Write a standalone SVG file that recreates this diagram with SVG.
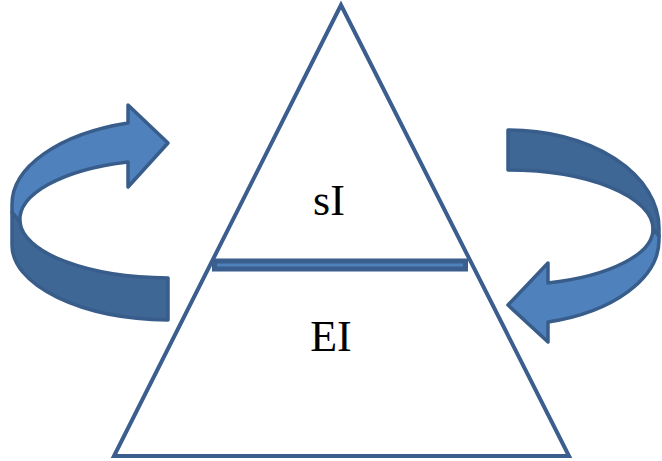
<svg xmlns="http://www.w3.org/2000/svg" width="662" height="461" viewBox="0 0 662 461">
<style>
.light{fill:#4F81BD;stroke:#385D8A;stroke-width:3.5;stroke-linejoin:round}
.dark{fill:#3E6796;stroke:#385D8A;stroke-width:3.5;stroke-linejoin:round}
.lbl{font-family:"Liberation Serif","Times New Roman",serif;font-size:44px;fill:#000;text-anchor:middle}
</style>
<rect width="662" height="461" fill="#fff"/>
<g id="arrow-left">
<path class="dark" d="M 20 222 A 150 58 0 0 0 168 278 L 168 320 A 160 75 0 0 1 12 245 L 12 212 Z"/>
<path class="light" d="M 20 222 L 12 212 L 12 205 A 163 85 0 0 1 128 123 L 128 105 L 168 143 L 128 187 L 128 162 A 150 60 0 0 0 20 222 Z"/>
</g>
<g id="arrow-right">
<path class="dark" d="M 508 130 A 150 98 0 0 1 659 228 L 659 236 L 653 229 A 145 59 0 0 0 508 170 Z"/>
<path class="light" d="M 653 229 A 145 56 0 0 1 548 283 L 548 263 L 508 305 L 548 342 L 548 322 A 151 85 0 0 0 659 240 L 659 236 Z"/>
</g>
<g id="pyramid">
<polygon points="341,5 114,456 569,456" fill="none" stroke="#3B5E8E" stroke-width="4" stroke-linejoin="miter"/>
</g>
<g id="divider">
<rect x="214.5" y="261" width="251" height="8" fill="#4F81BD" stroke="#3A5F8E" stroke-width="5"/>
</g>
<g id="node-sI">
<text class="lbl" x="329" y="215">sI</text>
</g>
<g id="node-EI">
<text class="lbl" x="331" y="351">EI</text>
</g>
</svg>
